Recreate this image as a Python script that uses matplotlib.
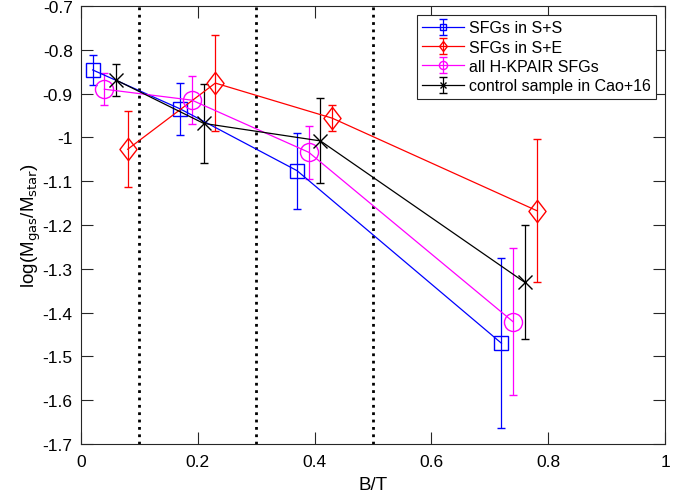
import numpy as np
import matplotlib
matplotlib.use("Agg")
import matplotlib.pyplot as plt
from matplotlib.path import Path
from matplotlib.ticker import FormatStrFormatter

plt.rcParams["font.family"] = ["Liberation Sans", "DejaVu Sans"]

# S+S pairs
ss_bt = [0.02, 0.17, 0.37, 0.72]
ss_val = [-0.846, -0.935, -1.076, -1.470]
ss_err = [0.035, 0.059, 0.087, 0.194]

# S+E pairs
se_bt = [0.08, 0.23, 0.43, 0.78]
se_val = [-1.027, -0.876, -0.956, -1.167]
se_err = [0.087, 0.109, 0.030, 0.163]

# all H-KPAIR SFGs
all_bt = [0.04, 0.19, 0.39, 0.74]
all_val = [-0.890, -0.915, -1.034, -1.421]
all_err = [0.036, 0.055, 0.061, 0.168]

# control sample
ctrl_bt = [0.06, 0.21, 0.41, 0.76]
ctrl_val = [-0.869, -0.968, -1.008, -1.331]
ctrl_err = [0.037, 0.090, 0.097, 0.130]

bin_edges = [0.1, 0.3, 0.5]

# matlab-like diamond (a bit taller than wide)
diamond = Path([(0, 1), (0.77, 0), (0, -1), (-0.77, 0), (0, 1)],
               [Path.MOVETO, Path.LINETO, Path.LINETO, Path.LINETO,
                Path.CLOSEPOLY])


def main():
    fig = plt.figure(figsize=(6.94, 5.02), dpi=100)
    ax = fig.add_axes([81 / 694, 57 / 502, 584 / 694, 438 / 502])

    for xb in bin_edges:
        ax.axvline(xb, color="black", linestyle=":", linewidth=2.0, zorder=1)

    series = [
        (ss_bt, ss_val, ss_err, "blue", "s", 10, "SFGs in S+S"),
        (se_bt, se_val, se_err, "red", diamond, 16, "SFGs in S+E"),
        (all_bt, all_val, all_err, "magenta", "o", 13, "all H-KPAIR SFGs"),
        (ctrl_bt, ctrl_val, ctrl_err, "black", "x", 9.5,
         "control sample in Cao+16"),
    ]
    for x, y, e, c, m, ms, lab in series:
        ax.errorbar(x, y, yerr=e, color=c, ecolor=c, marker=m, ms=ms,
                    mfc="none", mec=c, mew=1.0, lw=0.9, elinewidth=0.9,
                    capsize=2.8, capthick=0.9, label=lab, zorder=3)

    ax.set_xlim(0, 1)
    ax.set_ylim(-1.7, -0.7)
    ax.set_xticks(np.arange(0, 1.01, 0.2))
    ax.set_yticks(np.arange(-1.7, -0.69, 0.1))
    ax.xaxis.set_major_formatter(FormatStrFormatter("%g"))
    ax.yaxis.set_major_formatter(FormatStrFormatter("%g"))
    ax.tick_params(direction="in", length=8.5, width=0.8, top=True,
                   right=True, labelsize=12.5, colors="#262626",
                   labelcolor="black")
    ax.tick_params(axis="x", pad=7)
    ax.tick_params(axis="y", pad=6)
    for sp in ax.spines.values():
        sp.set_color("#262626")
        sp.set_linewidth(0.8)

    ax.set_xlabel("B/T", fontsize=13.5, labelpad=5)
    ax.set_ylabel(r"log(M$_{\rm gas}$/M$_{\rm star}$)", fontsize=13.5,
                  labelpad=0)

    leg = ax.legend(loc="upper right", fontsize=11.5, markerscale=0.45,
                    handlelength=2.6, handletextpad=0.3, borderaxespad=0.55,
                    labelspacing=0.27, fancybox=False, framealpha=1,
                    edgecolor="#262626", borderpad=0.35)
    leg.get_frame().set_linewidth(0.8)

    fig.savefig("out.png", dpi=100)


if __name__ == "__main__":
    main()
